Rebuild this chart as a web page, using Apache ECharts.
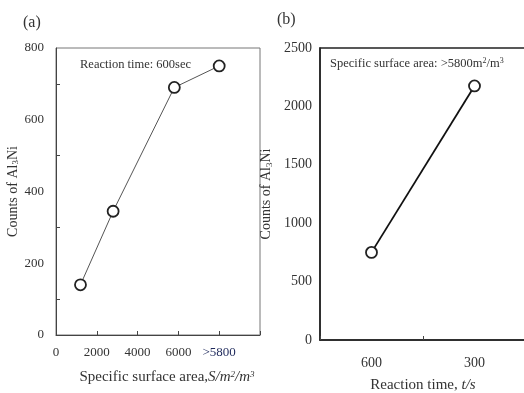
<!DOCTYPE html>
<html>
<head>
<meta charset="utf-8">
<script src="https://cdn.jsdelivr.net/npm/echarts@6/dist/echarts.min.js"></script>
<style>
  html, body { margin: 0; padding: 0; background: #fff; }
  #chart { width: 524px; height: 393px; }
</style>
</head>
<body>
<div id="chart"></div>
<script>
// (a) counts vs specific surface area, reaction time 600 sec
var sizesA = [1200, 2800, 5800, 8000];
var countsA = [140, 345, 690, 750];
var sizeTicksA = { 0: '0', 2000: '2000', 4000: '4000', 6000: '6000', 8000: '>5800', 10000: '' };

// (b) counts vs reaction time, surface area >5800
var timesB = ['600', '300'];
var countsB = [750, 2175];

var serif = '"Liberation Serif", "DejaVu Serif", serif';
var subRich = {
    sub: { fontSize: 9, verticalAlign: 'bottom', padding: [6, 0, 0, 0], fontFamily: serif, color: '#333' },
    sup: { fontSize: 9, verticalAlign: 'top', padding: [0, 0, 6, 0], fontFamily: serif, color: '#333' },
    it: { fontStyle: 'italic', fontSize: 15, fontFamily: serif, color: '#333' },
    itsup: { fontStyle: 'italic', fontSize: 9, verticalAlign: 'top', padding: [0, 0, 6, 0], fontFamily: serif, color: '#333' },
    blue: { color: '#1f2a5c', fontSize: 13, fontFamily: serif }
};

var myChart = echarts.init(document.getElementById('chart'));

var option = {
    backgroundColor: '#fff',
    animation: false,
    textStyle: { fontFamily: serif, color: '#333' },
    grid: [
        { left: 56, top: 48, width: 204, height: 287, show: true, borderColor: '#777', borderWidth: 1, outerBoundsMode: 'none' },
        { left: 320, top: 48, width: 206, height: 292, show: true, borderColor: '#222', borderWidth: 1.5, outerBoundsMode: 'none' }
    ],
    xAxis: [
        {
            gridIndex: 0,
            type: 'value',
            min: 0,
            max: 10000,
            interval: 2000,
            splitLine: { show: false },
            axisLine: { lineStyle: { color: '#444', width: 1 } },
            axisTick: { show: true, inside: true, length: 4, lineStyle: { color: '#444' } },
            axisLabel: {
                margin: 11,
                fontSize: 13,
                color: '#333',
                fontFamily: serif,
                rich: subRich,
                formatter: function (v) {
                    var s = sizeTicksA[v];
                    if (s === '>5800') return '{blue|>5800}';
                    return s === undefined ? '' : s;
                }
            },
            name: 'Specific surface area,{it|S/m}{itsup|2}{it|/m}{itsup|3}',
            nameLocation: 'middle',
            nameGap: 35,
            nameTextStyle: { fontSize: 15, color: '#333', fontFamily: serif, rich: subRich, padding: [0, 0, 0, 18] }
        },
        {
            gridIndex: 1,
            type: 'category',
            data: timesB,
            boundaryGap: true,
            splitLine: { show: false },
            axisLine: { lineStyle: { color: '#222', width: 1.5 } },
            axisTick: { show: true, inside: true, length: 4, lineStyle: { color: '#444' } },
            axisLabel: { margin: 16, fontSize: 14, color: '#333', fontFamily: serif },
            name: 'Reaction time, {it|t/s}',
            nameLocation: 'middle',
            nameGap: 38,
            nameTextStyle: { fontSize: 15, color: '#333', fontFamily: serif, rich: subRich }
        }
    ],
    yAxis: [
        {
            gridIndex: 0,
            type: 'value',
            min: 0,
            max: 800,
            interval: 200,
            splitLine: { show: false },
            axisLine: { show: true, lineStyle: { color: '#444', width: 1 } },
            axisTick: { show: true, inside: true, length: 0.01, lineStyle: { color: '#444' } },
            minorTick: { show: true, splitNumber: 2, length: 4, lineStyle: { color: '#444' } },
            axisLabel: { margin: 12, fontSize: 13, color: '#333', fontFamily: serif },
            name: 'Counts of Al{sub|3}Ni',
            nameLocation: 'middle',
            nameRotate: 90,
            nameGap: 32,
            nameTextStyle: { fontSize: 14, color: '#333', fontFamily: serif, rich: subRich }
        },
        {
            gridIndex: 1,
            type: 'value',
            min: 0,
            max: 2500,
            interval: 500,
            splitLine: { show: false },
            axisLine: { show: true, lineStyle: { color: '#222', width: 1.5 } },
            axisTick: { show: false },
            axisLabel: {
                margin: 8, fontSize: 14, color: '#333', fontFamily: serif,
                formatter: function (v) { return String(v); }
            },
            name: 'Counts of Al{sub|3}Ni',
            nameLocation: 'middle',
            nameRotate: 90,
            nameGap: 46,
            nameTextStyle: { fontSize: 14, color: '#333', fontFamily: serif, rich: subRich }
        }
    ],
    series: [
        {
            type: 'line',
            xAxisIndex: 0,
            yAxisIndex: 0,
            data: sizesA.map(function (s, i) { return [s, countsA[i]]; }),
            symbol: 'circle',
            symbolSize: 11,
            lineStyle: { color: '#555', width: 1 },
            itemStyle: { color: '#fff', borderColor: '#222', borderWidth: 1.8 }
        },
        {
            type: 'line',
            xAxisIndex: 1,
            yAxisIndex: 1,
            data: countsB,
            symbol: 'circle',
            symbolSize: 11,
            lineStyle: { color: '#111', width: 1.8 },
            itemStyle: { color: '#fff', borderColor: '#222', borderWidth: 1.8 }
        }
    ],
    graphic: [
        { type: 'text', left: 23, top: 15, style: { text: '(a)', font: '16px ' + serif, fill: '#333' } },
        { type: 'text', left: 277, top: 12, style: { text: '(b)', font: '16px ' + serif, fill: '#333' } },
        { type: 'text', left: 80, top: 58, style: { text: 'Reaction time: 600sec', font: '12.5px ' + serif, fill: '#333' } },
        {
            type: 'text', left: 330, top: 57,
            style: {
                text: 'Specific surface area: >5800m{s|2}/m{s|3}',
                font: '12.5px ' + serif,
                fill: '#333',
                rich: { s: { fontSize: 8, verticalAlign: 'top', padding: [0, 0, 5, 0], fontFamily: serif, fill: '#333' } }
            }
        }
    ]
};

myChart.setOption(option);
window.addEventListener('resize', function () {
    myChart.resize();
});
</script>
</body>
</html>
